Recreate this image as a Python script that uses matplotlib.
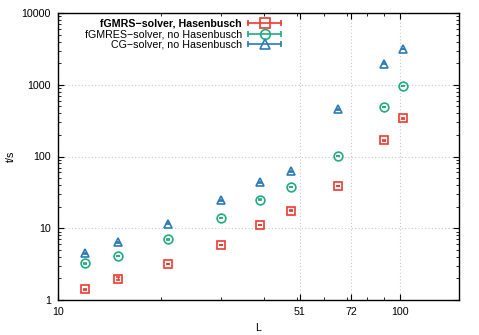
import numpy as np
import matplotlib
matplotlib.use("Agg")
import matplotlib.pyplot as plt
from matplotlib.lines import Line2D
from matplotlib.legend_handler import HandlerLine2D, HandlerTuple
from matplotlib.ticker import FixedLocator, FixedFormatter, NullFormatter

plt.rcParams['font.family'] = ['Liberation Sans', 'DejaVu Sans']
plt.rcParams['font.size'] = 7.7

# lattice sizes L and timings t/s
L = [12, 15, 21, 30, 39, 48, 66, 90, 102]
t_fgmres_hb = [1.41, 1.98, 3.16, 5.86, 11.1, 17.6, 38.7, 168, 340]
t_fgmres = [3.23, 4.13, 7.03, 13.9, 25.0, 37.5, 102, 490, 959]
t_cg = [4.45, 6.33, 11.6, 24.5, 43.5, 61.9, 454, 1977, 3162]
err_fgmres_hb = [0.015, 0.1, 0.03, 0.06, 0.1, 0.15, 0.4, 1.6, 3.2]
err_fgmres = [0.03, 0.04, 0.07, 0.14, 0.25, 0.35, 1.0, 4.8, 9.5]
err_cg = [0.04, 0.06, 0.1, 0.2, 0.4, 0.6, 4.0, 18, 30]

labels = ["fGMRS\u2212solver, Hasenbusch",
          "fGMRES\u2212solver, no Hasenbusch",
          "CG\u2212solver, no Hasenbusch"]
colors = ["#ee3a30", "#20ad7e", "#2a7bb8"]
markers = ["s", "o", "^"]

x_major = [10, 51, 72, 100]
x_minor = [20, 30, 40, 50, 60, 70, 80, 90]
y_major = [1, 10, 100, 1000, 10000]

fig = plt.figure(figsize=(4.79, 3.35), dpi=100)
ax = fig.add_axes([58 / 479, 35 / 335, 401 / 479, 287 / 335])

series = [t_fgmres_hb, t_fgmres, t_cg]
errs = [err_fgmres_hb, err_fgmres, err_cg]
handles = []
hmap = {}
for y, e, c, m in zip(series, errs, colors, markers):
    ax.errorbar(L, y, yerr=e, fmt=m, color=c, mfc='none', mec=c, ms=6.3,
                mew=1.2, elinewidth=1.0, capsize=1.5, capthick=1.0, zorder=3)
    bar = Line2D([], [], color=c, lw=1.2, marker='|', ms=5, mew=1.2)
    mk = Line2D([], [], color=c, ls='none', marker=m, mfc='none', ms=7, mew=1.2)
    hmap[bar] = HandlerLine2D(numpoints=2, marker_pad=0)
    handles.append((bar, mk))
hmap[tuple] = HandlerTuple(ndivide=1)

ax.set_xscale('log')
ax.set_yscale('log')
ax.set_xlim(10, 149)
ax.set_ylim(1, 10000)

ax.xaxis.set_major_locator(FixedLocator(x_major))
ax.xaxis.set_major_formatter(FixedFormatter([str(v) for v in x_major]))
ax.xaxis.set_minor_locator(FixedLocator(x_minor))
ax.xaxis.set_minor_formatter(NullFormatter())
ax.yaxis.set_major_locator(FixedLocator(y_major))
ax.yaxis.set_major_formatter(FixedFormatter([str(v) for v in y_major]))

ax.tick_params(which='both', direction='in', top=True, right=True, colors='black')
ax.tick_params(which='major', length=4, width=0.8, pad=5)
ax.tick_params(which='minor', length=2, width=0.6)
for s in ax.spines.values():
    s.set_linewidth(1.0)

ax.grid(True, which='major', color='#c8c8c8', ls=(0, (1, 2)), lw=0.8)

ax.set_xlabel("L")
ax.xaxis.set_label_coords(0.5, -0.08)
ax.set_ylabel("t/s")
ax.yaxis.set_label_coords(-0.105, 0.5)

leg = ax.legend(handles, labels, handler_map=hmap, loc='upper right',
                bbox_to_anchor=(0.555, 0.98), frameon=False, markerfirst=False,
                handlelength=3.0, handletextpad=0.6, labelspacing=0.05,
                borderpad=0, borderaxespad=0)
leg.get_texts()[0].set_fontweight('bold')

fig.savefig("out.png", dpi=100)
